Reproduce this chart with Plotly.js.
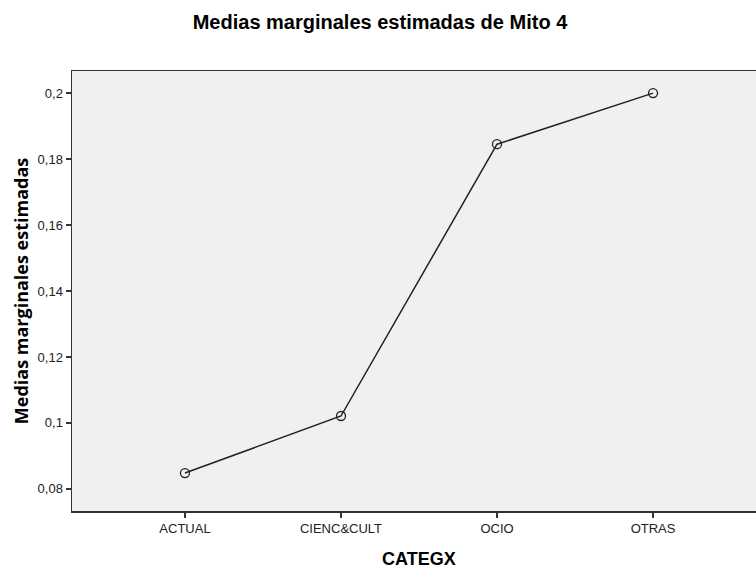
<!DOCTYPE html>
<html>
<head>
<meta charset="utf-8">
<script src="https://cdn.plot.ly/plotly-3.0.1.min.js"></script>
<style>html,body{margin:0;padding:0;background:#fff;overflow:hidden;width:756px;height:571px;}#wrap{width:756px;height:571px;overflow:hidden;}#chart{width:766px;height:571px;}</style>
</head>
<body>
<div id="wrap"><div id="chart"></div></div>
<script>
var categories = ["ACTUAL", "CIENC&CULT", "OCIO", "OTRAS"];
var medias = [0.0848, 0.1021, 0.1845, 0.2000];
var yTicks = [0.08, 0.10, 0.12, 0.14, 0.16, 0.18, 0.20];
var yTickLabels = ["0,08", "0,1", "0,12", "0,14", "0,16", "0,18", "0,2"];

var trace = {
  x: categories,
  y: medias,
  type: "scatter",
  mode: "lines+markers",
  line: {color: "#222222", width: 1.5},
  marker: {symbol: "circle-open", size: 9, color: "#222222", line: {width: 1.3}},
  hoverinfo: "x+y"
};

var layout = {
  width: 766,
  height: 571,
  margin: {l: 72, r: 0, t: 71, b: 60},
  paper_bgcolor: "#ffffff",
  plot_bgcolor: "#f0f0f0",
  showlegend: false,
  font: {family: "Liberation Sans, Arial, sans-serif", size: 13, color: "#222"},
  title: {
    text: "<b>Medias marginales estimadas de Mito 4</b>",
    font: {family: "Liberation Sans, Arial, sans-serif", size: 20, color: "#000"},
    x: 380 / 766, xref: "container", xanchor: "center",
    y: 1 - 22 / 571, yref: "container", yanchor: "middle"
  },
  xaxis: {
    type: "category",
    range: [-0.724, 3.724],
    showgrid: false,
    zeroline: false,
    showline: true,
    linecolor: "#333333",
    linewidth: 1.5,
    mirror: true,
    ticks: "outside",
    ticklen: 5,
    tickwidth: 1.5,
    tickcolor: "#333333",
    tickfont: {family: "Liberation Sans, Arial, sans-serif", size: 13, color: "#222"}
  },
  yaxis: {
    range: [0.0733, 0.2067],
    tickvals: yTicks,
    ticktext: yTickLabels,
    showgrid: false,
    zeroline: false,
    showline: true,
    mirror: false,
    linecolor: "#333333",
    linewidth: 1.5,
    ticks: "outside",
    ticklen: 5,
    tickwidth: 1.5,
    tickcolor: "#333333",
    tickfont: {family: "Liberation Sans, Arial, sans-serif", size: 13, color: "#222"},
    title: {
      text: "<b>Medias marginales estimadas</b>",
      font: {family: "Open Sans, Arial, sans-serif", size: 18, color: "#000"},
      standoff: 4
    }
  },
  annotations: [{
    text: "<b>CATEGX</b>",
    xref: "paper", yref: "paper",
    x: 0.5, y: 0,
    xanchor: "center", yanchor: "middle",
    yshift: -48,
    showarrow: false,
    font: {family: "Liberation Sans, Arial, sans-serif", size: 18, color: "#000"}
  }]
};

Plotly.newPlot("chart", [trace], layout, {displayModeBar: false, staticPlot: true});
</script>
</body>
</html>
